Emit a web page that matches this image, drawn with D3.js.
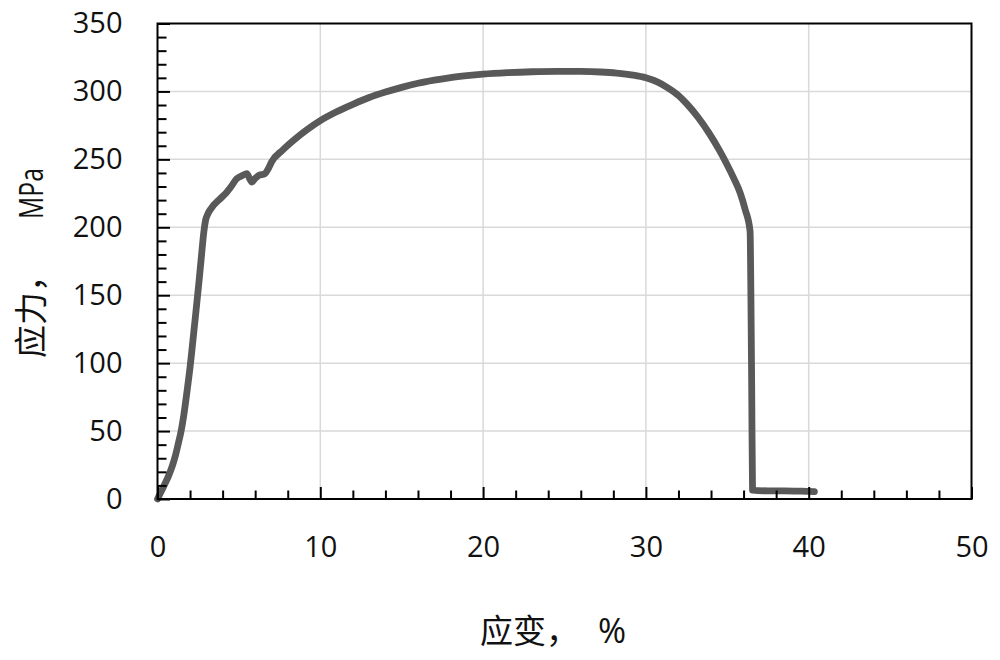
<!DOCTYPE html>
<html>
<head>
<meta charset="utf-8">
<script src="https://cdn.jsdelivr.net/npm/d3@7/dist/d3.min.js"></script>
<style>
  html, body { margin: 0; padding: 0; background: #fff; }
  svg { display: block; }
</style>
</head>
<body>
<svg id="chart" width="1000" height="660"></svg>
<script>
// ---- data ----
const strain = [0, 0.2, 0.45, 0.68, 0.9, 1.1, 1.3, 1.45, 1.6, 1.8, 2.0, 2.1, 2.3, 2.54, 2.7, 2.85, 2.95, 3.1, 3.3, 3.85, 4.2, 4.5, 4.87, 5.2, 5.49, 5.65, 5.8, 6.0, 6.2, 6.6, 6.8, 7.0, 7.7, 8.5, 9.2, 10.0, 11.0, 12.0, 13.0, 14.0, 15.0, 16.0, 17.0, 18.0, 19.0, 20.0, 21.5, 23.0, 24.5, 26.0, 27.2, 28.2, 29.2, 30.0, 30.7, 31.3, 32.0, 32.5, 33.2, 33.9, 34.5, 34.95, 35.4, 35.8, 36.1, 36.4, 36.45, 36.5, 36.55, 37.5, 38.5, 39.5, 40.35];
const stress = [0, 5, 11, 17, 24, 32, 42, 50, 60.5, 78, 97, 108, 131, 159, 179, 197, 205, 210, 214, 221, 225, 229.6, 235.8, 238, 239.5, 236, 233.3, 236, 238, 239.5, 243, 248, 257, 265.5, 272, 278.5, 285, 290.5, 295.5, 299.5, 303, 306, 308.3, 310.2, 311.6, 312.7, 313.8, 314.5, 314.8, 314.7, 314.3, 313.5, 312, 310, 307, 303, 297, 291, 281, 269, 257, 247, 236, 225, 213, 197, 150, 80, 6.5, 6, 6, 5.8, 5.5];
const xTicks = [0, 10, 20, 30, 40, 50];
const yTicks = [0, 50, 100, 150, 200, 250, 300, 350];
const xMinor = [2, 4, 6, 8, 12, 14, 16, 18, 22, 24, 26, 28, 32, 34, 36, 38, 42, 44, 46, 48];
const yMinor = [10, 20, 30, 40, 60, 70, 80, 90, 110, 120, 130, 140, 160, 170, 180, 190, 210, 220, 230, 240, 260, 270, 280, 290, 310, 320, 330, 340];
const xTitle = ["应变，", "%"];
const yTitle = ["应力，", "MPa"];

// ---- layout ----
const L = 157.5, R = 971.5, T = 23.5, B = 499;
const svg = d3.select("#chart");
const x = d3.scaleLinear().domain([0, 50]).range([L, R]);
const y = d3.scaleLinear().domain([0, 350]).range([B, T]);

// gridlines
svg.append("g").selectAll("line").data(yTicks.filter(v => v > 0 && v < 350)).join("line")
  .attr("x1", L).attr("x2", R).attr("y1", d => y(d)).attr("y2", d => y(d))
  .attr("stroke", "#d9d9d9").attr("stroke-width", 1.5);
svg.append("g").selectAll("line").data(xTicks.filter(v => v > 0 && v < 50)).join("line")
  .attr("y1", T).attr("y2", B).attr("x1", d => x(d)).attr("x2", d => x(d))
  .attr("stroke", "#d9d9d9").attr("stroke-width", 1.5);

// data line
const line = d3.line().x((d, i) => x(strain[i])).y((d, i) => y(stress[i])).curve(d3.curveMonotoneX);
svg.append("path").datum(stress).attr("d", line)
  .attr("fill", "none").attr("stroke", "#595959").attr("stroke-width", 6.8)
  .attr("stroke-linecap", "round").attr("stroke-linejoin", "round");

// axes
const fontNum = "'Open Sans', sans-serif";
const gy = svg.append("g").attr("transform", `translate(${L},0)`)
  .call(d3.axisLeft(y).tickValues(yTicks).tickSize(-12.5).tickPadding(35).tickFormat(d3.format("d")));
const gyMinor = svg.append("g").attr("transform", `translate(${L},0)`)
  .call(d3.axisLeft(y).tickValues(yMinor).tickSize(-9).tickFormat(""));
const gx = svg.append("g").attr("transform", `translate(0,${B})`)
  .call(d3.axisBottom(x).tickValues(xTicks).tickSize(-12).tickPadding(37).tickFormat(d3.format("d")));
const gxMinor = svg.append("g").attr("transform", `translate(0,${B})`)
  .call(d3.axisBottom(x).tickValues(xMinor).tickSize(-8.5).tickFormat(""));
[gy, gyMinor, gx, gxMinor].forEach(g => {
  g.select(".domain").remove();
  g.selectAll(".tick line").attr("stroke", "#000").attr("stroke-width", 2);
  g.selectAll("text").attr("font-family", fontNum).attr("font-size", 29).attr("fill", "#111");
});

// frame
svg.append("rect").attr("x", L).attr("y", T).attr("width", R - L).attr("height", B - T)
  .attr("fill", "none").attr("stroke", "#000").attr("stroke-width", 2);

// axis titles
const cjk = "'Noto Sans CJK SC', sans-serif";
const xt = svg.append("text").attr("x", 480).attr("y", 643).attr("fill", "#111");
xt.append("tspan").attr("font-family", cjk).attr("font-size", 33).text(xTitle[0]);
xt.append("tspan").attr("font-family", fontNum).attr("font-size", 34).attr("dx", 19).text(xTitle[1]);

const yt = svg.append("text").attr("transform", "translate(43,358) rotate(-90)").attr("fill", "#111");
yt.append("tspan").attr("font-family", cjk).attr("font-size", 33).text(yTitle[0]);
yt.append("tspan").attr("font-family", fontNum).attr("font-size", 33)
  .attr("dx", 40).attr("textLength", 51).attr("lengthAdjust", "spacingAndGlyphs").text(yTitle[1]);
</script>
</body>
</html>
